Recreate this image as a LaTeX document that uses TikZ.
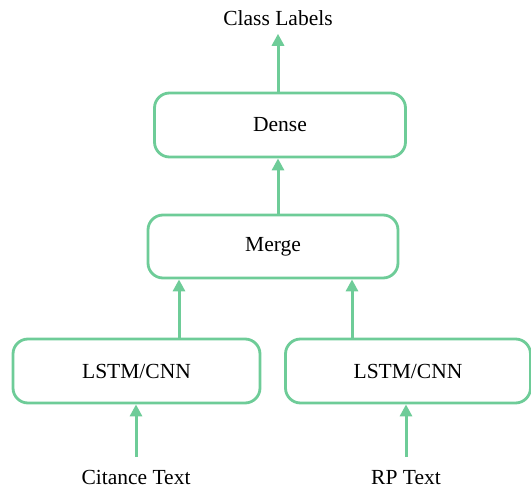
\documentclass[tikz,border=0pt]{standalone}
\usepackage{fontspec}
\setmainfont{Liberation Serif}
\usetikzlibrary{arrows.meta}
\definecolor{mint}{RGB}{110,204,152}
\tikzset{
  block/.style={rectangle,draw=mint,line width=2.8pt,rounded corners=15pt,fill=white},
  label/.style={inner sep=8pt},
  arr/.style={draw=mint,line width=3pt,-{Triangle[width=12pt,length=12pt]}}
}
\begin{document}
\begin{tikzpicture}[x=1pt,y=1pt,font=\fontsize{21.5}{25}\selectfont]
  \useasboundingbox (0,0) rectangle (531,491);
  \node[label] (labels) at (278,473) {Class Labels};
  \node[block,minimum width=251pt,minimum height=64pt] (dense) at (280,366) {Dense};
  \node[block,minimum width=250pt,minimum height=63pt] (merge) at (273,244.5) {Merge};
  \node[block,minimum width=247pt,minimum height=64pt] (lstmL) at (136.5,120) {LSTM/CNN};
  \node[block,minimum width=245pt,minimum height=64pt] (lstmR) at (408,120) {\raisebox{-5pt}{LSTM/CNN}};
  \node[label] (citance) at (136,13.5) {Citance Text};
  \node[label] (rp) at (406,13.5) {RP Text};

  \draw[arr] (dense.north -| labels) -- (labels);
  \draw[arr] ([xshift=5pt]merge.north) -- ([xshift=5pt]merge.north |- dense.south);
  \draw[arr] ([xshift=42.5pt]lstmL.north) -- ([xshift=42.5pt]lstmL.north |- merge.south);
  \draw[arr] ([xshift=-56pt]lstmR.north) -- ([xshift=-56pt]lstmR.north |- merge.south);
  \draw[arr,shorten <=5pt] (citance) -- (citance |- lstmL.south);
  \draw[arr,shorten <=5pt] (rp) -- (rp |- lstmR.south);
\end{tikzpicture}
\end{document}
